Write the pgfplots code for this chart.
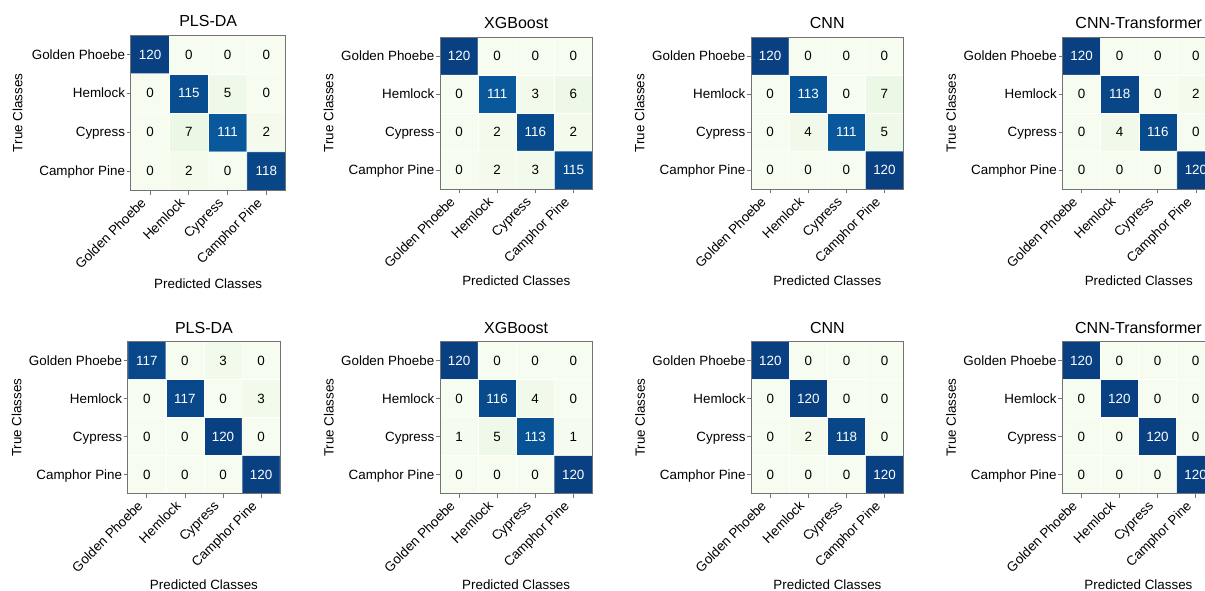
\documentclass[border=0pt]{standalone}
\usepackage{fontspec}
\setmainfont{Liberation Sans}
\usepackage{pgfplots}
\usepackage{pgfplotstable}
\pgfplotsset{compat=1.18}

\definecolor{framegray}{RGB}{115,115,115}
\newcommand\lbl{\fontsize{13.4pt}{15pt}\selectfont}
\newcommand\ttl{\fontsize{16pt}{18pt}\selectfont}

% confusion matrices: x = predicted class, y = true class, c = count
% first dataset
\pgfplotstableread{
x y c
0 0 120
1 0 0
2 0 0
3 0 0
0 1 0
1 1 115
2 1 5
3 1 0
0 2 0
1 2 7
2 2 111
3 2 2
0 3 0
1 3 2
2 3 0
3 3 118
}\plsA
\pgfplotstableread{
x y c
0 0 120
1 0 0
2 0 0
3 0 0
0 1 0
1 1 111
2 1 3
3 1 6
0 2 0
1 2 2
2 2 116
3 2 2
0 3 0
1 3 2
2 3 3
3 3 115
}\xgbA
\pgfplotstableread{
x y c
0 0 120
1 0 0
2 0 0
3 0 0
0 1 0
1 1 113
2 1 0
3 1 7
0 2 0
1 2 4
2 2 111
3 2 5
0 3 0
1 3 0
2 3 0
3 3 120
}\cnnA
\pgfplotstableread{
x y c
0 0 120
1 0 0
2 0 0
3 0 0
0 1 0
1 1 118
2 1 0
3 1 2
0 2 0
1 2 4
2 2 116
3 2 0
0 3 0
1 3 0
2 3 0
3 3 120
}\ctA
% second dataset
\pgfplotstableread{
x y c
0 0 117
1 0 0
2 0 3
3 0 0
0 1 0
1 1 117
2 1 0
3 1 3
0 2 0
1 2 0
2 2 120
3 2 0
0 3 0
1 3 0
2 3 0
3 3 120
}\plsB
\pgfplotstableread{
x y c
0 0 120
1 0 0
2 0 0
3 0 0
0 1 0
1 1 116
2 1 4
3 1 0
0 2 1
1 2 5
2 2 113
3 2 1
0 3 0
1 3 0
2 3 0
3 3 120
}\xgbB
\pgfplotstableread{
x y c
0 0 120
1 0 0
2 0 0
3 0 0
0 1 0
1 1 120
2 1 0
3 1 0
0 2 0
1 2 2
2 2 118
3 2 0
0 3 0
1 3 0
2 3 0
3 3 120
}\cnnB
\pgfplotstableread{
x y c
0 0 120
1 0 0
2 0 0
3 0 0
0 1 0
1 1 120
2 1 0
3 1 0
0 2 0
1 2 0
2 2 120
3 2 0
0 3 0
1 3 0
2 3 0
3 3 120
}\ctB

\pgfplotsset{
  colormap={gnbu}{rgb255=(247,252,240) rgb255=(224,243,219) rgb255=(204,235,197)
    rgb255=(168,221,181) rgb255=(123,204,196) rgb255=(78,179,211)
    rgb255=(43,140,190) rgb255=(8,104,172) rgb255=(8,64,129)},
  cm/.style={
    scale only axis,
    anchor=north west,
    xmin=-0.5, xmax=3.5, ymin=-0.5, ymax=3.5, y dir=reverse,
    axis on top,
    colormap name=gnbu,
    point meta min=0, point meta max=120,
    xtick={0,1,2,3}, ytick={0,1,2,3},
    xticklabels={Golden Phoebe,Hemlock,Cypress,Camphor Pine},
    yticklabels={Golden Phoebe,Hemlock,Cypress,Camphor Pine},
    tick align=outside, tick pos=left,
    major tick length=4pt,
    tick style={draw=framegray, line width=0.8pt},
    axis line style={draw=framegray, line width=0.9pt},
    tick label style={font=\lbl, text height=0.73em, text depth=0.21em, inner sep=0pt},
    x tick label style={xshift=-8.5pt, yshift=-4pt, rotate=45, anchor=north east},
    y tick label style={xshift=-1.5pt, yshift=-2pt, anchor=east},
    xlabel={Predicted Classes}, ylabel={True Classes},
    label style={font=\lbl},
    xlabel style={at={(axis description cs:0.5,0)}, anchor=center, yshift=-91pt},
    ylabel style={at={(axis description cs:-0.73,0.5)}, anchor=center},
    every axis title shift=0pt,
    title style={at={(axis description cs:0.5,1)}, anchor=center, yshift=14pt, font=\ttl},
  },
  % coloured cells
  cmcells/.style={
    matrix plot, mesh/cols=4, point meta=explicit,
    shader=faceted, faceted color=white, line width=0.5pt,
  },
  % count written in each cell
  cmcounts/.style={
    only marks, mark=none, point meta=explicit,
    /pgf/number format/assume math mode=true,
    nodes near coords,
    every node near coord/.append style={anchor=center, font=\lbl, inner sep=0pt},
    unbounded coords=discard,
  },
}

% cells, then counts: white on dark cells, black on pale ones
\newcommand\cmdata[1]{%
  \addplot[cmcells] table[x=x, y=y, meta=c] {#1};
  \addplot[cmcounts, restrict expr to domain={\thisrow{c}}{61:1000},
    every node near coord/.append style={text=white}] table[x=x, y=y, meta=c] {#1};
  \addplot[cmcounts, restrict expr to domain={\thisrow{c}}{-1:60},
    every node near coord/.append style={text=black}] table[x=x, y=y, meta=c] {#1};
}

\begin{document}
\begin{tikzpicture}
\path[use as bounding box] (0,0) rectangle (1205pt,590pt);
\clip (0,0) rectangle (1205pt,590pt);

% top row
\begin{axis}[cm, at={(130.7pt,555pt)}, width=155pt, height=155.7pt, title={PLS-DA},
  xlabel style={yshift=-2pt}]
\cmdata{\plsA}
\end{axis}
\begin{axis}[cm, at={(440pt,553pt)}, width=152.5pt, height=152.3pt, title={XGBoost}]
\cmdata{\xgbA}
\end{axis}
\begin{axis}[cm, at={(751pt,553pt)}, width=152.5pt, height=152.3pt, title={CNN}]
\cmdata{\cnnA}
\end{axis}
\begin{axis}[cm, at={(1062.5pt,553pt)}, width=152.5pt, height=152.3pt, title={CNN-Transformer}]
\cmdata{\ctA}
\end{axis}

% bottom row
\begin{axis}[cm, at={(127.8pt,248.3pt)}, width=152.3pt, height=152pt, title={PLS-DA}]
\cmdata{\plsB}
\end{axis}
\begin{axis}[cm, at={(440pt,248.3pt)}, width=152.3pt, height=152pt, title={XGBoost}]
\cmdata{\xgbB}
\end{axis}
\begin{axis}[cm, at={(751.3pt,248.3pt)}, width=152.3pt, height=152pt, title={CNN}]
\cmdata{\cnnB}
\end{axis}
\begin{axis}[cm, at={(1062.3pt,248.3pt)}, width=152.3pt, height=152pt, title={CNN-Transformer}]
\cmdata{\ctB}
\end{axis}
\end{tikzpicture}
\end{document}
